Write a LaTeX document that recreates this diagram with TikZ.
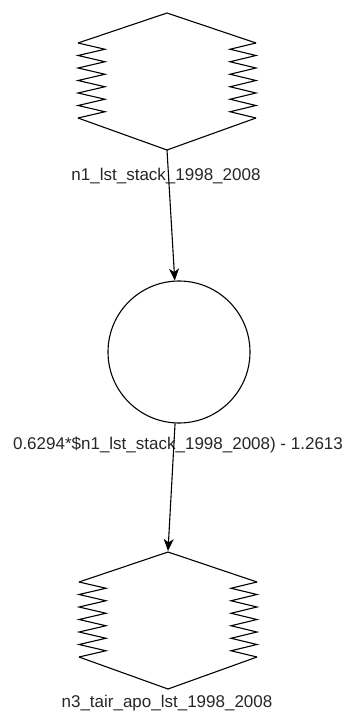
\documentclass[tikz,border=0pt]{standalone}
\usepackage{fontspec}
\setmainfont{Liberation Sans}
\usetikzlibrary{arrows.meta}

% zigzag outline of a stock node, drawn round its (invisible) box
\newcommand{\stockoutline}[1]{%
  \begin{scope}[shift={(#1.center)}]
    \draw (-89,38) -- (0,68) -- (89,38);
    \draw (-89,-37) -- (0,-69) -- (89,-37);
    \draw (-89,38) \foreach \k in {1,...,6} {
      -- (-62,{38-(\k-0.5)*12.5}) -- (-89,{38-\k*12.5}) };
    \draw (89,38) \foreach \k in {1,...,6} {
      -- (63,{38-(\k-0.5)*12.5}) -- (89,{38-\k*12.5}) };
  \end{scope}}

\begin{document}
\begin{tikzpicture}[x=1pt, y=1pt, >={Stealth[length=12pt, width=10pt, inset=3.5pt]},
    line width=1.1pt,
    stockbox/.style={rectangle, minimum width=178pt, minimum height=137pt, inner sep=0pt},
    flowcirc/.style={circle, draw, minimum size=142pt, inner sep=0pt},
    lbl/.style={inner sep=0pt, text=black!85, font=\fontsize{17}{20}\selectfont}]
    \useasboundingbox (0,0) rectangle (351,-725);
    % Stocks and the converter
    \node[stockbox] (n1) at (167,-81) {};
    \stockoutline{n1}
    \node[flowcirc] (n2) at (179,-352) {};
    \node[stockbox] (n3) at (168,-620) {};
    \stockoutline{n3}
    % Labels
    \node[lbl] (l1) at (166,-176) {n1\_lst\_stack\_1998\_2008};
    \node[lbl] (l2) at (178,-445) {0.6294*\$n1\_lst\_stack\_1998\_2008) - 1.2613};
    \node[lbl] (l3) at (167,-703) {n3\_tair\_apo\_lst\_1998\_2008};
    % Links
    \draw[->] (n1.south) -- (n2);
    \draw[->] (n2) -- (n3.north);
\end{tikzpicture}
\end{document}
